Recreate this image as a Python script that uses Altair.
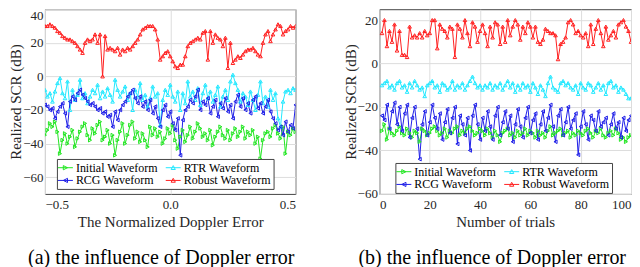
import altair as alt
import pandas as pd

SERIES = ["Initial Waveform", "RTR Waveform", "RCG Waveform", "Robust Waveform"]
COLORS = ["#22e622", "#22e8ff", "#2020e8", "#ff2020"]
MARKERS = ["triangle-right", "triangle-up", "triangle-left", "triangle-up"]
LEGEND_SYMBOLS = [
    "M-1.25,0H1.25M-0.35,-0.35L0.35,0L-0.35,0.35Z",
    "M-1.25,0H1.25M-0.35,0.3L0,-0.35L0.35,0.3Z",
    "M-1.25,0H1.25M0.35,-0.35L-0.35,0L0.35,0.35Z",
    "M-1.25,0H1.25M-0.35,0.3L0,-0.35L0.35,0.3Z",
]

# ---- panel (a): normalized Doppler error ----
doppler_error = [round(-0.5 + 0.01 * i, 2) for i in range(101)]

a_initial = [-35, -32, -28, -30, -27, -33, -46, -38, -34, -40, -36, -32, -42, -37, -33, -30, -28, -35, -38, -31,
             -34, -29, -27, -38, -36, -32, -40, -35, -47, -38, -33, -28, -40, -35, -29, -27, -37, -33, -39, -34,
             -38, -42, -30, -35, -31, -36, -33, -40, -37, -31, -34, -29, -38, -43, -36, -32, -39, -35, -30, -37,
             -33, -28, -31, -36, -34, -38, -32, -41, -36, -33, -30, -35, -37, -32, -38, -34, -31, -36, -33, -30,
             -37, -33, -35, -32, -40, -36, -49, -38, -34, -33, -36, -31, -29, -34, -37, -30, -46, -33, -35, -31, -33]
a_rtr = [-8, -12, -10, -15, -9, -4, -1, -10, -13, -3, -20, -8, -14, -11, -2, -13, -10, -16, -12, -8,
         -10, -5, -13, -9, -12, -7, -11, -15, -2, -8, -12, -9, -6, -14, -10, -20, -8, -12, -4, -14,
         -11, -18, -13, -6, -12, -10, -29, -14, -8, -11, -5, -12, -15, -9, -20, -10, -16, -3, -12, -9,
         -14, -7, -17, -10, -5, -13, -9, -15, -11, -6, -18, -12, -8, -14, -3, 1, -4, -8, -15, -10,
         -12, -17, -9, -14, -20, -11, -3, -16, -12, -18, -8, -14, -10, -25, -30, -15, -9, -8, -10, -7, -8]
a_rcg = [-17, -18, -20, -19, -25, -21, -18, -16, -22, -30, -15, -12, -14, -10, -8, -11, -13, -15, -17, -16,
         -18, -20, -19, -22, -21, -24, -23, -30, -21, -26, -20, -17, -15, -12, -10, -8, -13, -16, -12, -18,
         -15, -20, -14, -22, -18, -25, -30, -20, -17, -24, -21, -28, -32, -25, -47, -26, -20, -18, -14, -16,
         -12, -8, -20, -15, -17, -13, -22, -18, -14, -24, -16, -19, -13, -21, -17, -25, -15, -11, -18, -13,
         -20, -16, -22, -14, -12, -19, -16, -22, -18, -14, -21, -25, -28, -32, -30, -35, -27, -33, -29, -31, -17]
a_robust = [30, 30, 31, 30, 29, 27, 26, 24, 23, 22, 22, 21, 20, 18, 16,
            14, 20, 22, 21, 22, 25, 20, 25, 0, 24, 16, 17, 16, 15, 17,
            13, 16, 15, 17, 16, 18, 20, 22, 25, 28, 29, 30, 30, 30, 28,
            22, 10, 12, 14, 15, 12, 9, 6, 5, 7, 7, 12, 18, 20, 21,
            22, 23, 22, 26, 27, 10, 27, 20, 25, 23, 22, 18, 23, 5, 20,
            8, 10, 12, 11, 13, 15, 16, 16, 17, 15, 13, 12, 20, 25, 27, 21, 25, 28, 31, 30, 25, 27, 28, 30, 29, 30]

# ---- panel (b): number of trials ----
trials = list(range(1, 101))

b_initial = [-31, -28, -35, -30, -32, -33, -31, -29, -32, -33, -30, -32, -34, -31, -32, -36, -30, -31, -33, -32,
             -30, -29, -31, -33, -32, -30, -34, -31, -32, -30, -29, -33, -31, -32, -30, -29, -31, -33, -32, -30,
             -31, -33, -30, -32, -34, -31, -33, -36, -32, -31, -30, -33, -32, -34, -31, -33, -32, -30, -33, -31,
             -32, -34, -31, -33, -32, -34, -31, -29, -33, -32, -31, -30, -33, -32, -31, -34, -32, -33, -31, -32,
             -33, -31, -30, -32, -34, -31, -32, -30, -33, -34, -32, -31, -33, -30, -32, -35, -34, -36, -34, -33]
b_rtr = [-10, -9, -8, -11, -10, -12, -9, -8, -11, -10, -13, -9, -11, -8, -10, -12, -11, -15, -10, -9,
         -8, -11, -10, -13, -9, -10, -12, -11, -8, -12, -10, -11, -9, -12, -10, -8, -6, -9, -11, -10,
         -12, -10, -11, -9, -12, -10, -11, -9, -12, -10, -8, -11, -9, -13, -10, -12, -9, -11, -10, -13,
         -9, -11, -14, -10, -12, -15, -9, -6, -11, -12, -13, -9, -8, -10, -9, -11, -12, -10, -14, -9,
         -11, -12, -9, -10, -13, -11, -9, -12, -10, -14, -9, -8, -11, -10, -13, -11, -12, -14, -16, -16]
b_rcg = [-24, -26, -19, -30, -22, -18, -28, -20, -31, -23, -19, -34, -25, -20, -30, -44, -28, -22, -33, -27,
         -19, -25, -30, -23, -35, -27, -21, -32, -25, -20, -37, -24, -28, -33, -25, -40, -24, -19, -28, -35,
         -25, -31, -22, -29, -35, -24, -20, -33, -27, -22, -30, -24, -36, -28, -21, -29, -34, -25, -20, -32,
         -26, -23, -35, -28, -22, -31, -25, -19, -29, -36, -24, -21, -33, -27, -20, -30, -26, -23, -42, -29,
         -22, -28, -35, -24, -26, -31, -22, -29, -27, -25, -33, -28, -23, -30, -27, -34, -25, -31, -26, -24]
b_robust = [14, 20, 8, 15, 10, 18, 6, 15, 4, 4, 3, 17, 12, 13, 12, 14, 12, 15, 13, 14,
            20, 20, 7, 18, 16, 15, 12, 17, 16, 3, 18, 16, 12, 20, 14, 8, 19, 17, 10, 15,
            18, 14, 8, 17, 12, 19, 18, 9, 17, 10, 20, 13, 17, 20, 18, 11, 17, 14, 19, 17,
            12, 17, 10, 9, 11, 16, 15, 14, 14, 13, 2, 9, 10, 12, 19, 20, 18, 14, 15, 13,
            12, 14, 8, 18, 9, 16, 20, 14, 8, 17, 11, 13, 15, 12, 18, 19, 20, 17, 15, 10]

FONT = "Liberation Serif"
TXT = "#262626"


def long_df(xs, cols):
    rows = []
    for name, vals in zip(SERIES, cols):
        for xv, v in zip(xs, vals):
            rows.append({"x": xv, "scr": v, "series": name})
    return pd.DataFrame(rows)


def panel(df, xdom, xticks, ydom, yticks, xtitle, caption, width, height, lx, ly, yflush, cap_dx):
    base = alt.Chart(df)
    x = alt.X("x:Q", scale=alt.Scale(domain=xdom, nice=False, zero=False),
              axis=alt.Axis(values=xticks, title=xtitle, grid=True, labelPadding=5, titlePadding=3))
    y = alt.Y("scr:Q", scale=alt.Scale(domain=ydom, nice=False, zero=False),
              axis=alt.Axis(values=yticks, title="Realized SCR (dB)", grid=True, labelPadding=2,
                            titlePadding=-1, labelFlush=yflush))
    leg = alt.Legend(orient="none", legendX=lx, legendY=ly, title=None, columns=2, direction="horizontal")
    color = alt.Color("series:N", scale=alt.Scale(domain=SERIES, range=COLORS), legend=leg)
    lines = base.mark_line(strokeWidth=1, clip=True).encode(x=x, y=y, color=color)
    pts = [
        base.transform_filter(alt.datum.series == s)
        .mark_point(shape=m, size=13, filled=False, strokeWidth=1, opacity=1, clip=True)
        .encode(x=x, y=y, color=color)
        for s, m in zip(SERIES, MARKERS)
    ]
    legend_layer = base.transform_filter("false").mark_point(filled=False, strokeWidth=1, opacity=1).encode(
        x=x, y=y, color=color,
        shape=alt.Shape("series:N", scale=alt.Scale(domain=SERIES, range=LEGEND_SYMBOLS), legend=leg),
    )
    return alt.layer(legend_layer, lines, *pts).properties(
        width=width, height=height,
        title=alt.TitleParams(text=caption, orient="bottom", anchor="middle", frame="group", dx=cap_dx,
                              fontSize=20, font=FONT, fontWeight="normal", color="black", offset=18),
    )


left = panel(long_df(doppler_error, [a_initial, a_rtr, a_rcg, a_robust]),
             [-0.5, 0.5], [-0.5, 0, 0.5], [-70, 40], [-60, -40, -20, 0, 20, 40],
             "The Normalized Doppler Error", "(a) the influence of Doppler error", 251, 185, 12, 150, True, -9)
right = panel(long_df(trials, [b_initial, b_rtr, b_rcg, b_robust]),
              [0, 100], [0, 20, 40, 60, 80, 100], [-60, 25], [-60, -40, -20, 0, 20],
              "Number of trials", "(b) the influence of Doppler error", 252, 185, 16, 154, False, -13)

chart = alt.hconcat(left, right, spacing=84, bounds="flush").resolve_scale(
    color="independent", shape="independent"
).resolve_legend(
    color="independent", shape="independent"
).properties(
    padding={"left": 0, "top": 0, "right": 0, "bottom": 0}
).configure_view(stroke="#444444", strokeWidth=1).configure_axis(
    labelFont=FONT, labelFontSize=13, labelColor=TXT,
    titleFont=FONT, titleFontSize=15, titleFontWeight="normal", titleColor=TXT,
    domain=False, ticks=False, gridColor="#dddddd", gridWidth=1,
).configure_legend(
    labelFont=FONT, labelFontSize=12, labelColor="black",
    fillColor="white", strokeColor="#444444", padding=2, cornerRadius=0,
    symbolSize=144, symbolStrokeWidth=1, rowPadding=0, columnPadding=5, labelOffset=4,
)

chart.save("out.html", embed_options={"renderer": "svg", "actions": False})
